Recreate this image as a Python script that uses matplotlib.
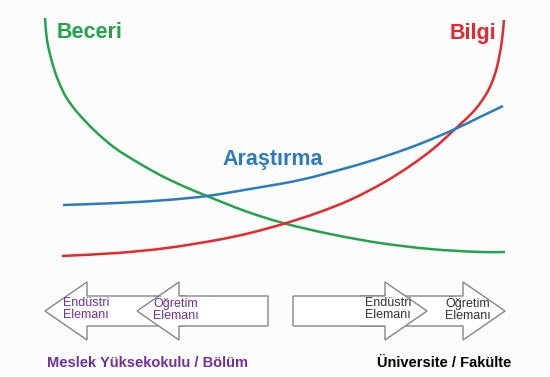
import matplotlib
matplotlib.use('Agg')
import matplotlib.pyplot as plt
from matplotlib.patches import FancyArrow, PathPatch
from matplotlib.path import Path

plt.rcParams['font.family'] = ['Liberation Sans', 'DejaVu Sans']

# curves (pixel space, y grows downwards)
beceri_x = [45, 47, 52, 58, 66, 77, 95, 115, 137, 160, 183, 207, 245, 283, 330, 380, 430, 480, 505]
beceri_y = [18, 40, 62, 80, 97, 112, 131, 148, 162, 175, 186, 196, 211, 223, 234, 243, 249, 252, 252]

bilgi_x = [62, 117, 167, 217, 250, 283, 317, 350, 383, 410, 433, 453, 472, 481, 489, 495, 499, 502, 504]
bilgi_y = [256, 253, 248, 240, 233, 224, 213, 200, 183, 166, 149, 131, 113, 102, 89, 74, 58, 40, 20]

arastirma_x = [63, 117, 167, 207, 250, 300, 350, 383, 417, 453, 480, 503]
arastirma_y = [205, 203, 200, 196, 189, 180, 167, 157, 145, 130, 117, 106]

green = '#22a54a'
red = '#e8282c'
blue = '#2a7bbf'
purple = '#7030a0'


def smooth_path(xs, ys):
    # smooth bezier path through the read points
    pts = list(zip(xs, ys))
    n = len(pts)
    tang = []
    for i in range(n):
        a = pts[max(i - 1, 0)]
        b = pts[min(i + 1, n - 1)]
        dx, dy = b[0] - a[0], b[1] - a[1]
        d = (dx * dx + dy * dy) ** 0.5
        tang.append((dx / d, dy / d))
    verts = [pts[0]]
    codes = [Path.MOVETO]
    for i in range(n - 1):
        p1, p2 = pts[i], pts[i + 1]
        seg = ((p2[0] - p1[0]) ** 2 + (p2[1] - p1[1]) ** 2) ** 0.5 / 3
        c1 = (p1[0] + tang[i][0] * seg, p1[1] + tang[i][1] * seg)
        c2 = (p2[0] - tang[i + 1][0] * seg, p2[1] - tang[i + 1][1] * seg)
        verts += [c1, c2, p2]
        codes += [Path.CURVE4] * 3
    return Path(verts, codes)


fig = plt.figure(figsize=(5.5, 3.77), dpi=100)
ax = fig.add_axes([0, 0, 1, 1])
ax.set_xlim(0, 550)
ax.set_ylim(377, 0)
ax.axis('off')
fig.patch.set_facecolor('#fcfcfc')

for xs, ys, c in [(beceri_x, beceri_y, green), (bilgi_x, bilgi_y, red),
                  (arastirma_x, arastirma_y, blue)]:
    ax.add_patch(PathPatch(smooth_path(xs, ys), facecolor='none', edgecolor=c,
                           lw=1.8, capstyle='butt'))

ax.text(57, 33, 'Beceri', color=green, fontsize=15.5, weight='bold', va='center')
ax.text(450, 33, 'Bilgi', color=red, fontsize=15.5, weight='bold', va='center')
ax.text(222, 160, 'Araştırma', color=blue, fontsize=15.5, weight='bold', va='center')

# arrows: (tail, tip, z)
arrows = [(185, 45, 2), (268, 137, 3), (360, 505, 2), (293, 427, 3)]
for tail, tip, z in arrows:
    a = FancyArrow(tail, 311, tip - tail, 0, width=30, head_width=58, head_length=42,
                   length_includes_head=True, facecolor='white', edgecolor='#858585',
                   lw=1.0, zorder=z)
    ax.add_patch(a)

ax.text(63, 309, 'Endüstri\nElemanı', color=purple, fontsize=9, va='center',
        linespacing=1.05, zorder=5)
ax.text(153, 309, 'Öğretim\nElemanı', color=purple, fontsize=9, va='center',
        linespacing=1.05, zorder=5)
ax.text(365, 309, 'Endüstri\nElemanı', color='#333333', fontsize=9, va='center',
        linespacing=1.05, zorder=5)
ax.text(445, 309, 'Öğretim\nElemanı', color='#333333', fontsize=9, va='center',
        linespacing=1.05, zorder=5)

ax.text(47, 363, 'Meslek Yüksekokulu / Bölüm', color=purple, fontsize=10.5,
        weight='bold', va='center')
ax.text(377, 363, 'Üniversite / Fakülte', color='black', fontsize=10.5,
        weight='bold', va='center')

fig.savefig('out.png', dpi=100, facecolor=fig.get_facecolor())
